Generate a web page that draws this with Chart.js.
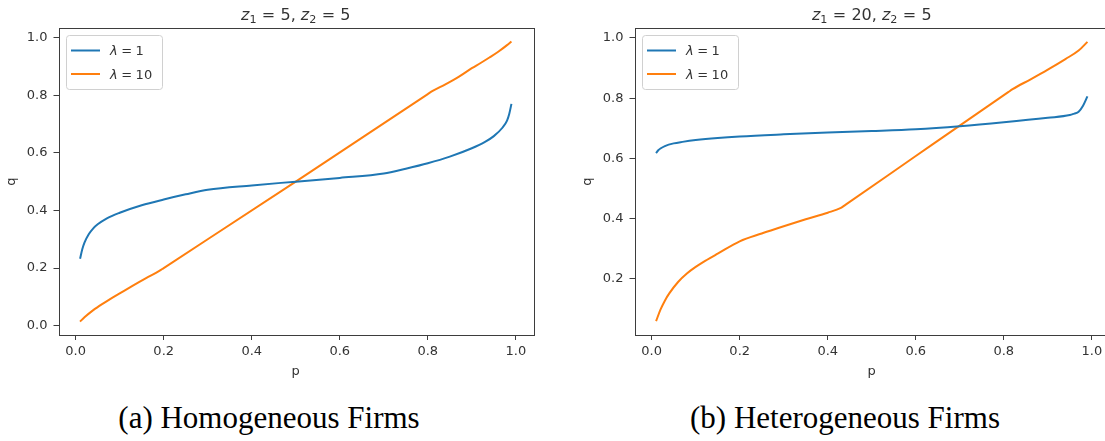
<!DOCTYPE html>
<html>
<head>
<meta charset="utf-8">
<script src="https://cdn.jsdelivr.net/npm/chart.js@4.4.1/dist/chart.umd.min.js"></script>
<style>
  body { margin: 0; background: #fff; width: 1105px; height: 441px; position: relative; overflow: hidden; }
  .panel { position: absolute; top: 0; width: 545px; height: 385px; }
  .caption { position: absolute; top: 402px; font-family: 'Liberation Serif', serif; font-size: 31px; line-height: 1; color: #000; white-space: nowrap; transform: translateX(-50%); }
</style>
</head>
<body>
<div class="panel" style="left:0"><canvas id="homoChart"></canvas></div>
<div class="panel" style="left:576px"><canvas id="heteroChart"></canvas></div>
<div class="caption" style="left:269px">(a) Homogeneous Firms</div>
<div class="caption" style="left:845px">(b) Heterogeneous Firms</div>
<script>
// ticks
const xTicks = [0, 0.2, 0.4, 0.6, 0.8, 1.0];
const homoYTicks = [0, 0.2, 0.4, 0.6, 0.8, 1.0];
const heteroYTicks = [0.2, 0.4, 0.6, 0.8, 1.0];
const lambdas = [1, 10];

// homogeneous firms, z1 = 5, z2 = 5
const homoP1 = [0.01, 0.015, 0.02, 0.03, 0.04, 0.05, 0.07, 0.1, 0.15, 0.2, 0.25, 0.3, 0.4, 0.5, 0.6, 0.7, 0.75, 0.8, 0.85, 0.9, 0.93, 0.95, 0.97, 0.98, 0.985, 0.99];
const homoQ1 = [0.232, 0.265, 0.288, 0.318, 0.338, 0.352, 0.372, 0.392, 0.418, 0.438, 0.456, 0.472, 0.487, 0.500, 0.513, 0.528, 0.545, 0.564, 0.587, 0.616, 0.638, 0.658, 0.688, 0.712, 0.735, 0.770];
const homoP10 = [0.01, 0.02, 0.04, 0.06, 0.08, 0.1, 0.13, 0.16, 0.19, 0.2, 0.5, 0.8, 0.81, 0.84, 0.87, 0.9, 0.92, 0.94, 0.96, 0.98, 0.99];
const homoQ10 = [0.014, 0.029, 0.054, 0.075, 0.094, 0.112, 0.139, 0.165, 0.19, 0.2, 0.5, 0.804, 0.814, 0.838, 0.864, 0.894, 0.912, 0.931, 0.951, 0.974, 0.987];

// heterogeneous firms, z1 = 20, z2 = 5
const heteroP1 = [0.01, 0.015, 0.02, 0.03, 0.05, 0.07, 0.1, 0.15, 0.2, 0.3, 0.4, 0.5, 0.6, 0.7, 0.8, 0.9, 0.95, 0.96, 0.97, 0.98, 0.99];
const heteroQ1 = [0.618, 0.627, 0.633, 0.641, 0.650, 0.655, 0.661, 0.668, 0.673, 0.680, 0.686, 0.691, 0.697, 0.707, 0.720, 0.735, 0.744, 0.749, 0.755, 0.775, 0.806];
const heteroP10 = [0.01, 0.02, 0.03, 0.04, 0.06, 0.08, 0.1, 0.125, 0.15, 0.2, 0.25, 0.3, 0.35, 0.4, 0.43, 0.44, 0.6, 0.81, 0.82, 0.86, 0.9, 0.94, 0.97, 0.99];
const heteroQ10 = [0.06, 0.098, 0.128, 0.152, 0.19, 0.218, 0.24, 0.263, 0.284, 0.325, 0.351, 0.375, 0.398, 0.42, 0.436, 0.446, 0.608, 0.82, 0.83, 0.862, 0.895, 0.93, 0.958, 0.987];

const BLUE = '#1f77b4';
const ORANGE = '#ff7f0e';
const INK = '#333333';
const SPINE = '#3d3d3d';
const FONT = '"DejaVu Sans", sans-serif';

// text runs: 'i' italic, 'n' upright, 's' subscript; a bare number is a gap in em
function drawMath(ctx, parts, x, y, size, align) {
    const fontFor = k => (k === 'i' ? 'italic ' : '') + (k === 's' ? size * 0.7 : size) + 'px ' + FONT;
    const widthOf = p => {
        if (typeof p === 'number') return p * size;
        ctx.font = fontFor(p[1]);
        return ctx.measureText(p[0]).width;
    };
    const total = parts.reduce((w, p) => w + widthOf(p), 0);
    let cx = align === 'center' ? x - total / 2 : x;
    ctx.textAlign = 'left';
    ctx.textBaseline = 'alphabetic';
    parts.forEach(p => {
        if (typeof p !== 'number') {
            ctx.font = fontFor(p[1]);
            ctx.fillText(p[0], cx, p[1] === 's' ? y + size * 0.22 : y);
        }
        cx += widthOf(p);
    });
}

// frame, title and legend box
const panelDecor = {
    id: 'panelDecor',
    afterDraw(chart, args, opts) {
        const { ctx, chartArea: a } = chart;
        ctx.save();
        ctx.strokeStyle = SPINE;
        ctx.lineWidth = 1;
        ctx.strokeRect(Math.round(a.left) + 0.5, Math.round(a.top) + 0.5,
            Math.round(a.right - a.left), Math.round(a.bottom - a.top));
        ctx.fillStyle = INK;
        drawMath(ctx, opts.title, (a.left + a.right) / 2, 19.5, 16, 'center');

        const bx = Math.round(a.left) + 7, by = Math.round(a.top) + 7;
        ctx.beginPath();
        ctx.roundRect(bx + 0.5, by + 0.5, 96, 54, 3);
        ctx.fillStyle = 'rgba(255,255,255,0.8)';
        ctx.fill();
        ctx.strokeStyle = '#d0d0d0';
        ctx.stroke();
        chart.data.datasets.forEach((ds, i) => {
            const ly = by + 15.5 + i * 23.5;
            ctx.strokeStyle = ds.borderColor;
            ctx.lineWidth = 2;
            ctx.beginPath();
            ctx.moveTo(bx + 5, ly);
            ctx.lineTo(bx + 34, ly);
            ctx.stroke();
            ctx.fillStyle = INK;
            drawMath(ctx, [['λ', 'i'], 0.27, ['=', 'n'], 0.27, [String(lambdas[i]), 'n']], bx + 44, ly + 4.7, 13, 'left');
        });
        ctx.restore();
    }
};

function series(ps, qs, color, i) {
    return {
        label: 'λ = ' + lambdas[i],
        data: ps.map((p, k) => ({ x: p, y: qs[k] })),
        borderColor: color,
        borderWidth: 2,
        pointRadius: 0,
        fill: false,
        cubicInterpolationMode: 'monotone'
    };
}

function makeChart(id, sets, yTicks, yMin, yMax, title) {
    const tickFont = { family: FONT, size: 13 };
    new Chart(document.getElementById(id), {
        type: 'line',
        data: { datasets: sets },
        options: {
            responsive: true,
            maintainAspectRatio: false,
            animation: false,
            layout: { padding: { top: 28, left: 0, right: 12, bottom: 0 } },
            plugins: {
                legend: { display: false },
                tooltip: { enabled: false },
                panelDecor: { title: title }
            },
            scales: {
                x: {
                    type: 'linear',
                    min: -0.039,
                    max: 1.039,
                    afterBuildTicks: s => { s.ticks = xTicks.map(v => ({ value: v })); },
                    afterFit: s => { s.height = 50; },
                    border: { display: false },
                    grid: { drawOnChartArea: false, drawTicks: true, tickLength: 5, color: SPINE },
                    ticks: { color: INK, font: tickFont, padding: 4, autoSkip: false, maxRotation: 0,
                        callback: v => v.toFixed(1) },
                    title: { display: true, text: 'p', color: INK, font: tickFont, padding: { top: 0, bottom: 6 } }
                },
                y: {
                    type: 'linear',
                    min: yMin,
                    max: yMax,
                    afterBuildTicks: s => { s.ticks = yTicks.map(v => ({ value: v })); },
                    afterFit: s => { s.width = 58.5; },
                    border: { display: false },
                    grid: { drawOnChartArea: false, drawTicks: true, tickLength: 5, color: SPINE },
                    ticks: { color: INK, font: tickFont, padding: 6, callback: v => v.toFixed(1) },
                    title: { display: true, text: 'q', color: INK, font: tickFont, padding: { top: 3.6, bottom: 0 } }
                }
            }
        },
        plugins: [panelDecor]
    });
}

makeChart('homoChart',
    [series(homoP1, homoQ1, BLUE, 0), series(homoP10, homoQ10, ORANGE, 1)],
    homoYTicks, -0.0325, 1.0335,
    [['z', 'i'], ['1', 's'], 0.33, ['=', 'n'], 0.33, ['5', 'n'], [', ', 'n'], ['z', 'i'], ['2', 's'], 0.33, ['=', 'n'], 0.33, ['5', 'n']]);

makeChart('heteroChart',
    [series(heteroP1, heteroQ1, BLUE, 0), series(heteroP10, heteroQ10, ORANGE, 1)],
    heteroYTicks, 0.014, 1.033,
    [['z', 'i'], ['1', 's'], 0.33, ['=', 'n'], 0.33, ['20', 'n'], [', ', 'n'], ['z', 'i'], ['2', 's'], 0.33, ['=', 'n'], 0.33, ['5', 'n']]);
</script>
</body>
</html>
